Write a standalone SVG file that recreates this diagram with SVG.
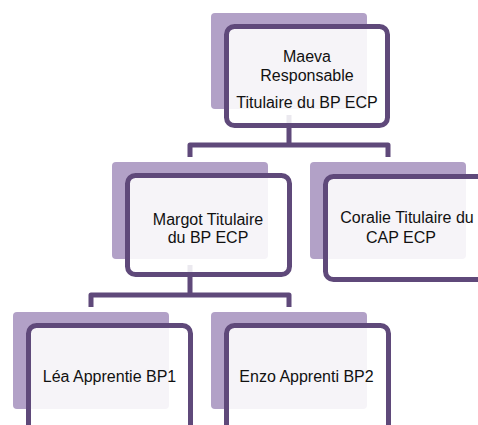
<svg xmlns="http://www.w3.org/2000/svg" width="478" height="425" viewBox="0 0 478 425">
<style>
.bg{fill:#b2a1c7}
.fr{fill:#ffffff;fill-opacity:0.88;stroke:#5f497a;stroke-width:5}
.cn{fill:none;stroke:#5f497a;stroke-width:5;stroke-linejoin:round}
text{font-family:"Liberation Sans",Arial,sans-serif;font-size:16px;fill:#111;text-anchor:middle}
</style>
<rect width="478" height="425" fill="#ffffff"/>
<g id="connectors">
<path class="cn" d="M289,115 V145 M190,157 V145 H388 V157"/>
<path class="cn" d="M190,265 V295 M91,307 V295 H289 V307"/>
</g>
<g id="maeva">
<rect class="bg" x="211" y="13" width="156" height="96" rx="4"/>
<rect class="fr" x="226.5" y="26.5" width="161" height="99" rx="8"/>
<text x="307" y="62">Maeva</text>
<text x="307" y="81">Responsable</text>
<text x="307" y="108">Titulaire du BP ECP</text>
</g>
<g id="margot">
<rect class="bg" x="112" y="162" width="156" height="97" rx="4"/>
<rect class="fr" x="127.5" y="175.5" width="162" height="99" rx="8"/>
<text x="208" y="225">Margot Titulaire</text>
<text x="208" y="243">du BP ECP</text>
</g>
<g id="coralie">
<rect class="bg" x="310" y="162" width="156" height="97" rx="4"/>
<rect class="fr" x="325.5" y="176.5" width="162" height="103" rx="8"/>
<text x="407" y="223">Coralie Titulaire du</text>
<text x="401" y="243">CAP ECP</text>
</g>
<g id="lea">
<rect class="bg" x="13" y="312" width="156" height="97" rx="4"/>
<rect class="fr" x="28.5" y="325.5" width="162" height="110" rx="8"/>
<text x="109.5" y="382">Léa Apprentie BP1</text>
</g>
<g id="enzo">
<rect class="bg" x="211" y="312" width="156" height="97" rx="4"/>
<rect class="fr" x="226.5" y="325.5" width="162" height="110" rx="8"/>
<text x="306.5" y="382">Enzo Apprenti BP2</text>
</g>
</svg>
